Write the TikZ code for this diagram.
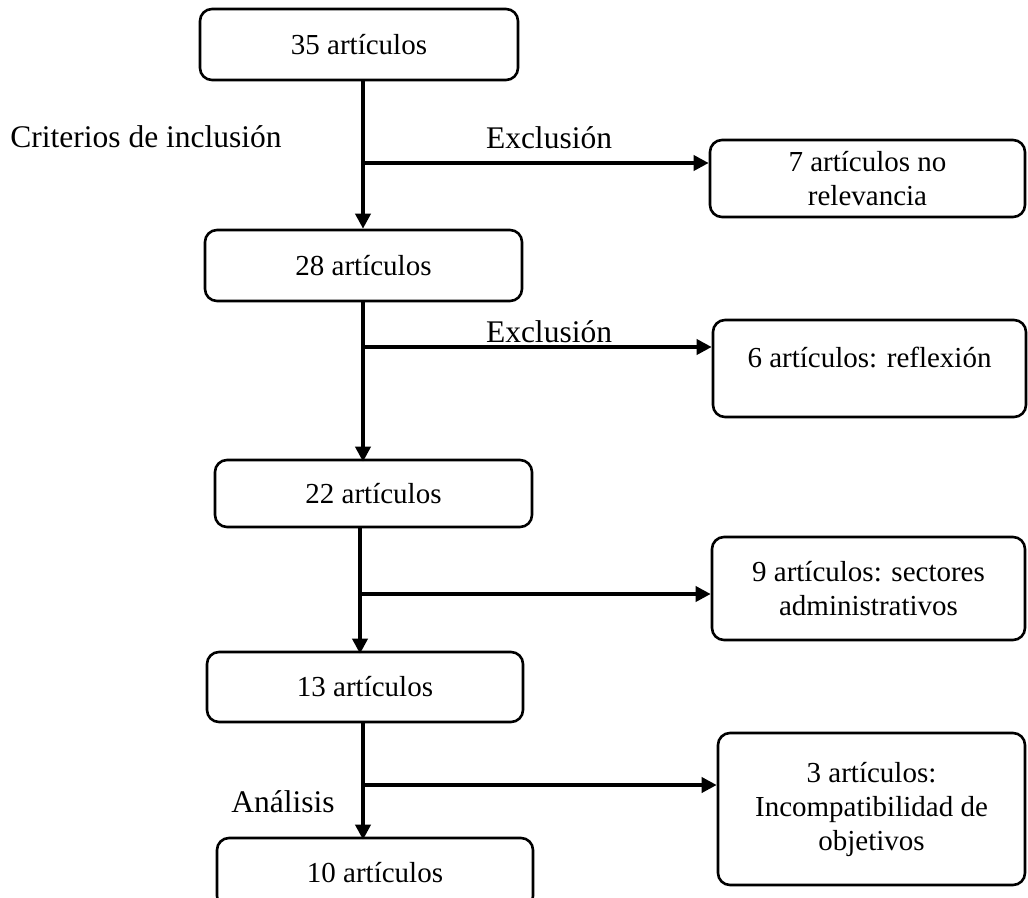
\documentclass[tikz,border=0pt]{standalone}
\usepackage{fontspec}
\setmainfont{Liberation Serif}
\usetikzlibrary{arrows.meta}
\begin{document}
\begin{tikzpicture}[x=1pt,y=-1pt,
 box/.style={draw, line width=2.6pt, rounded corners=12pt, inner sep=0pt,
   font=\fontsize{29}{34}\selectfont, align=center},
 lbl/.style={font=\fontsize{31.5}{36}\selectfont, inner sep=0pt},
 conn/.style={line width=3.6pt, -{Triangle[length=15pt,width=15pt]}},
 seg/.style={line width=3.6pt}]
\useasboundingbox (0,0) rectangle (1028,897);
% main column
\node[box, minimum width=318pt, minimum height=71pt] (b1) at (359,44.5) {35 artículos};
\node[box, minimum width=317pt, minimum height=71pt] (b2) at (363.5,265.5) {28 artículos};
\node[box, minimum width=317pt, minimum height=67pt] (b3) at (373.5,493.5) {22 artículos};
\node[box, minimum width=316pt, minimum height=70pt] (b4) at (365,687) {13 artículos};
\node[box, minimum width=316pt, minimum height=70pt] (b5) at (375,873) {10 artículos};
% side boxes
\node[box, minimum width=315pt, minimum height=77pt] (r1) at (867.5,178.5) {7 artículos no\\relevancia};
\node[box, minimum width=313pt, minimum height=97pt] (r2) at (869.5,368.5) {\raisebox{8pt}[20pt][7pt]{6 artículos: reflexión}};
\node[box, minimum width=313pt, minimum height=103pt] (r3) at (868.5,588.5) {9 artículos: sectores\\administrativos};
\node[box, minimum width=307pt, minimum height=152pt] (r4) at (871.5,809) {\fontsize{29}{36}\selectfont 3 artículos:\\Incompatibilidad de\\objetivos};
% labels
\node[lbl] (l0) at (146,137) {Criterios de inclusión};
\node[lbl] (l1) at (549,138) {Exclusión};
\node[lbl] (l2) at (549,332) {Exclusión};
\node[lbl] (l3) at (283,802) {Análisis};
% junctions
\coordinate (j1) at (363,163);
\coordinate (j2) at (363,347);
\coordinate (j3) at (360,594);
\coordinate (j4) at (363,785);
% connectors
\draw[conn] (b1.south -| j1) -- (b2.north -| j1);
\draw[conn] (j1) -- (j1 -| r1.west);
\draw[conn] (b2.south -| j2) -- ([yshift=-3pt]b3.north -| j2);
\draw[conn] (j2) -- (j2 -| r2.west);
\draw[conn] (b3.south -| j3) -- ([yshift=-3pt]b4.north -| j3);
\draw[conn] (j3) -- (j3 -| r3.west);
\draw[conn] (b4.south -| j4) -- ([yshift=-3pt]b5.north -| j4);
\draw[conn] (j4) -- (j4 -| r4.west);
\end{tikzpicture}
\end{document}
